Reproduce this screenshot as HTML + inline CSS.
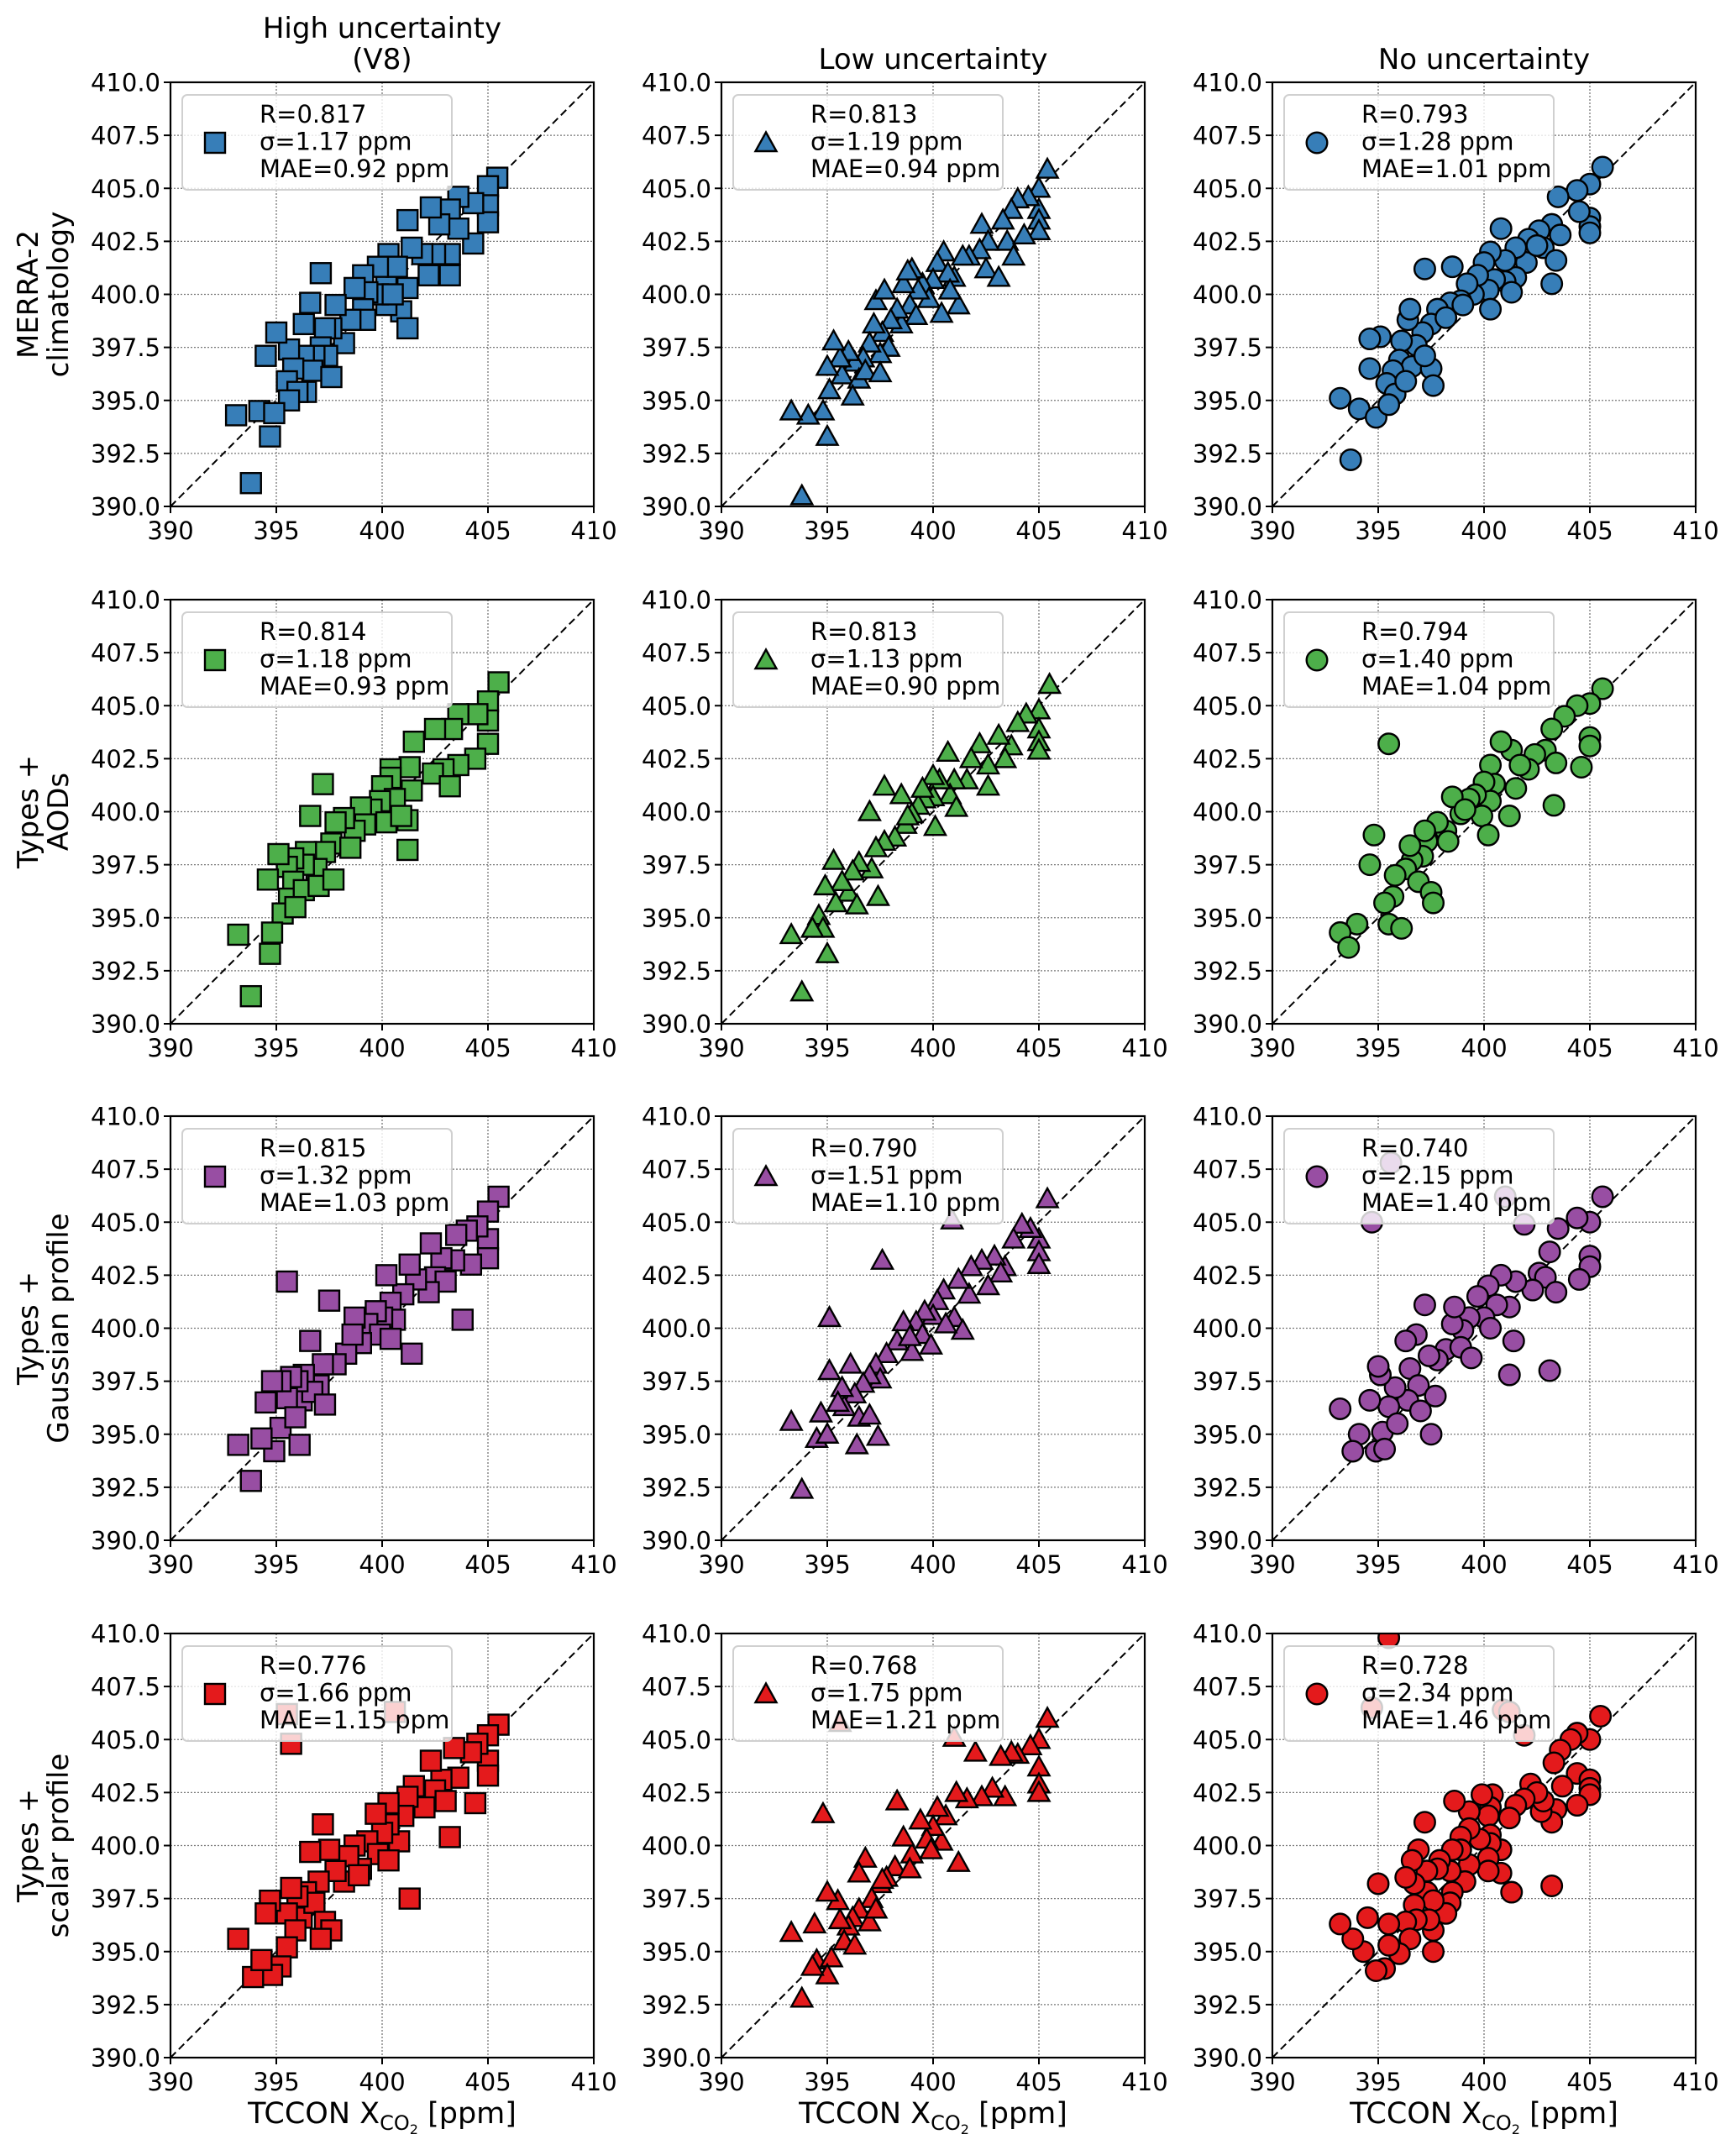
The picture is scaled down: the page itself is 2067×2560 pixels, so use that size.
<!DOCTYPE html>
<html><head><meta charset="utf-8"><style>
html,body{margin:0;padding:0;background:#fff;}
svg{display:block;font-family:"DejaVu Sans","Liberation Sans",sans-serif;}
</style></head><body>
<svg id="fig" width="2067" height="2560" viewBox="0 0 2067 2560" xmlns="http://www.w3.org/2000/svg"></svg>
<script>
const xTicks = [390,395,400,405,410];
const yTicks = [390,392.5,395,397.5,400,402.5,405,407.5,410];
const colTitles = [["High uncertainty","(V8)"],["Low uncertainty"],["No uncertainty"]];
const rowTitles = [["MERRA-2","climatology"],["Types +","AODs"],["Types +","Gaussian profile"],["Types +","scalar profile"]];
const rowColors = ["#377eb8","#4daf4a","#984ea3","#e41a1c"];
const colMarkers = ["square","triangle","circle"];
const statR = [["0.817","0.813","0.793"],["0.814","0.813","0.794"],["0.815","0.790","0.740"],["0.776","0.768","0.728"]];
const statSigma = [["1.17","1.19","1.28"],["1.18","1.13","1.40"],["1.32","1.51","2.15"],["1.66","1.75","2.34"]];
const statMAE = [["0.92","0.94","1.01"],["0.93","0.90","1.04"],["1.03","1.10","1.40"],["1.15","1.21","1.46"]];

const p11 = [[405.44,405.5],[405,405.1],[405,404.2],[405,403.4],[404.3,404.3],[404.3,402.4],[403.6,404.6],[403.2,404],[403.6,403.1],[402.7,403.3],[402.3,404.1],[403.2,401.9],[403.2,400.9],[402.5,401.9],[402.2,400.9],[401.9,401.9],[401.2,403.5],[401.4,402.2],[401.2,400.3],[400.9,399.2],[401.2,398.4],[400.3,401.9],[400.3,401.3],[400.2,400.8],[400.7,401.3],[400.2,399.5],[399.8,400],[400.5,400],[399.8,401.3],[399.1,400.9],[399.3,400.1],[398.7,400.3],[399.1,399.3],[399.2,398.8],[398.5,398.8],[397.8,399.5],[398.2,397.7],[397.6,398.4],[397.1,401],[397.3,398.4],[397.1,397.5],[396.6,399.6],[396.3,398.6],[397.4,397.1],[396.8,397.1],[396.3,397.1],[396.7,396.4],[397.6,396.1],[396.4,395.4],[395.6,397.4],[395.8,396.5],[395.5,395.9],[396,395.4],[395.6,395],[395,398.2],[394.5,397.1],[394.2,394.5],[394.9,394.4],[393.1,394.3],[394.7,393.3],[393.8,391.1]];
const p12 = [[405.4,405.9],[405,405],[405,404],[405,403.5],[405,403],[404.5,404.6],[404,404.5],[403.7,404],[403.3,403.5],[403.5,402.5],[403.8,401.8],[404.3,402.8],[402.3,403.3],[402.6,402.5],[402.2,402.1],[401.7,401.8],[402.5,401.2],[403.1,400.8],[401.4,401.8],[401,400.8],[400.5,402],[400.2,401.5],[400.7,401],[401.2,399.5],[400.8,400.2],[400,400.7],[399.5,400.5],[399.8,399.8],[399.3,400.2],[399,401.2],[398.9,399.5],[400.4,399.1],[399.2,399],[398.5,398.6],[398.3,399.3],[398,398.8],[397.6,398.2],[397.2,398.6],[397.3,399.7],[397.9,397.5],[397.5,397.2],[397,397.7],[396.7,397],[396.3,396.8],[396,397.3],[395.7,396.2],[396.5,396],[396.8,396.4],[396.2,395.2],[397.5,396.3],[395.6,397],[395.3,397.8],[395,396.6],[395.1,395.5],[394.8,394.5],[395,393.3],[394.1,394.3],[393.3,394.5],[393.8,390.5],[398.6,400.5],[398.8,401.1],[397.7,400.2]];
const p13 = [[405.6,406],[405,405.2],[404.4,404.9],[405,403.6],[405,403.2],[405,402.9],[404.5,403.9],[403.5,404.6],[403.2,403.3],[403.6,402.8],[402.6,403],[402.8,402.2],[403.4,401.6],[403.2,400.5],[402.1,402.6],[402,401.5],[401.5,402.2],[401.5,400.8],[401,401.6],[400.8,403.1],[401,400.6],[400.3,402],[400,401.5],[400.5,400.7],[400.2,400.2],[399.7,400.9],[399.5,400],[399.2,400.5],[398.9,399.7],[398.4,399.6],[398.5,401.3],[399,399.5],[400.3,399.3],[397.8,399.3],[397.5,398.6],[397.2,401.2],[397.1,398.2],[396.8,397.6],[396.4,398.8],[396.5,399.3],[396.1,397.8],[396,396.9],[396.6,396.6],[397.5,396.5],[397.6,395.7],[395.7,396.4],[395.4,395.8],[395.8,395.3],[395.1,398],[394.6,397.9],[394.6,396.5],[394.1,394.6],[394.9,394.2],[393.2,395.1],[393.7,392.2],[395.5,394.8],[396.3,395.9],[398.2,398.9],[397.2,397.1],[401.3,400.1],[402.5,402.3]];
const p21 = [[405.5,406.1],[405,405.2],[405,404.3],[405,403.2],[404.5,404.6],[404.4,402.5],[403.6,404.6],[403.3,403.9],[402.5,403.9],[403.6,402.2],[402.9,402],[402.4,401.8],[403.2,401.2],[401.5,403.3],[401.3,402.1],[401.4,401],[401.2,399.6],[400.4,402],[400.4,401.6],[400,401.2],[400.6,400.6],[399.9,400.5],[399.5,400.1],[400.2,399.5],[400.9,399.8],[399,400.2],[399.2,399.4],[398.7,399.1],[398.2,399.7],[397.8,399.5],[397.6,398.5],[397.2,401.3],[397.3,398.1],[396.6,399.8],[396.4,398.1],[396.9,397.3],[396.3,397.5],[395.8,397.8],[395.5,397.4],[395.8,396.7],[395.6,395.9],[396.3,396.3],[397,396.5],[395.3,395.2],[395.9,395.5],[395.1,398],[394.6,396.8],[394.8,394.3],[394.7,393.3],[393.2,394.2],[393.8,391.3],[401.2,398.2],[398.5,398.3],[397.7,396.8]];
const p22 = [[405.5,406],[405,404.8],[405,403.9],[405,403.3],[405,402.9],[404.4,404.6],[404,404.2],[403.7,403.1],[403.1,403.6],[403.4,402.5],[402.2,403.2],[402.6,402.2],[401.8,402.5],[401.6,401.5],[402.6,401.2],[401,401.5],[400.8,400.8],[401.1,400.2],[400.7,402.8],[400.3,401.5],[400,401.7],[400,400.7],[399.6,400.6],[399.3,400.3],[399.5,401.1],[399,399.9],[398.7,399.4],[398.5,400.8],[397.7,401.2],[398.2,398.8],[397.7,398.6],[397.3,398.3],[397,400],[397.1,397.3],[396.5,397.6],[396.2,397.2],[396,396.2],[396.4,395.6],[397.4,396],[395.7,396.7],[395.4,395.7],[395.3,397.7],[394.9,396.5],[394.6,395.1],[394.8,394.5],[395,393.3],[393.3,394.2],[394.3,394.5],[393.8,391.5],[398.8,399.8],[400.1,399.3]];
const p23 = [[405.6,405.8],[405,405.1],[404.4,405],[405,403.5],[405,403.1],[404.6,402.1],[403.8,404.5],[403.2,403.9],[403.3,400.3],[402.9,402.9],[403.4,402.3],[402.4,402.7],[402.1,402],[401.3,402.9],[401.7,402.2],[400.8,403.3],[401.5,401.1],[401.2,399.8],[400.3,402.2],[400.5,401.3],[400,401.4],[400.3,400.5],[399.9,399.8],[400.2,398.9],[399.6,400.8],[399.3,400.6],[398.9,399.9],[398.5,400.7],[398.2,399.1],[397.8,399.5],[397.3,398.6],[397.2,399.1],[397.1,397.9],[396.6,397.7],[396.3,397.3],[396.5,398.4],[396.9,396.7],[397.5,396.2],[397.6,395.7],[395.8,397],[395.7,396],[395.3,395.7],[395.5,394.7],[395.5,403.2],[394.8,398.9],[394.6,397.5],[394,394.7],[393.2,394.3],[393.6,393.6],[396.1,394.5],[398.3,398.6],[399.1,400.1]];
const p31 = [[405.5,406.2],[405,405.5],[405,404.2],[405,403.3],[404.5,404.8],[404,404.6],[404.2,403],[403.5,404.4],[403.4,403.2],[402.8,403.3],[402.3,404],[402.5,402.4],[403,402.2],[403.8,400.4],[402.2,401.7],[401.6,402.3],[401.3,403],[401,401.6],[400.2,402.5],[400.4,401.2],[400.6,400.4],[400,400.5],[399.7,400.8],[399.3,400.2],[399.9,399.7],[400.4,399.5],[399,399.3],[398.7,400.5],[398.3,398.8],[397.8,398.3],[397.5,401.3],[397.2,398.3],[397,397.3],[396.6,399.4],[396.3,397.8],[396.2,396.6],[396.7,397],[397.3,396.4],[396,397.5],[395.7,397.7],[395.5,396.7],[395.5,402.2],[395.2,395.3],[395.9,395.8],[396.1,394.5],[395.2,397.5],[394.8,397.5],[394.5,396.5],[394.9,394.2],[394.3,394.8],[393.2,394.5],[393.8,392.8],[401.4,398.8],[398.6,399.7]];
const p32 = [[405.4,406.1],[405,404.2],[405,403.6],[405,403],[404.6,404.7],[404.2,404.9],[403.8,404.2],[403.4,402.9],[402.9,403.4],[403.2,402.6],[402.3,403.2],[401.8,402.9],[402.6,402],[401.7,401.6],[401.2,402.3],[400.9,405.1],[401,400.5],[401.4,399.9],[400.5,401.8],[400.2,401.3],[400,400.6],[400.6,400.2],[399.6,400.8],[399.2,400.3],[399.5,399.7],[399,398.9],[398.6,400.3],[398.3,399.4],[397.8,398.8],[397.6,403.2],[397.3,398.3],[397.5,397.6],[397,397.8],[396.7,397.4],[396.3,396.9],[396.1,398.3],[395.8,396.3],[396.5,395.8],[397,395.9],[397.4,394.9],[395.7,397.2],[395.5,396.5],[395.1,400.5],[395.1,398],[394.7,396],[394.5,394.8],[395,395],[393.3,395.6],[393.8,392.4],[398.9,399.6],[399.9,399.2],[396.4,394.5]];
const p33 = [[405.6,406.2],[405,405],[404.4,405.2],[405,403.4],[405,402.9],[404.5,402.3],[403.5,404.7],[403.1,403.6],[403.1,398],[402.6,402.6],[402.9,402.4],[403.4,401.7],[402.3,401.8],[401.9,404.9],[401.5,402.2],[401.2,401],[401,406.2],[400.8,402.5],[400.2,402],[400.6,401.1],[400,400.5],[400.3,400],[401.2,397.8],[401.4,399.4],[399.7,401.5],[399.3,400.5],[399,399.9],[398.5,400.2],[398.6,401],[398.2,399],[397.8,398.5],[397.4,398.7],[397.2,401.1],[396.8,399.7],[396.3,399.4],[396.5,398.1],[396.9,397.3],[396.4,396.6],[397,396.1],[397.5,395],[397.7,396.8],[395.8,397.2],[395.5,396.3],[395.1,397.8],[395.2,395.1],[395.9,395.5],[395,398.2],[394.6,396.6],[394.1,395],[393.8,394.2],[393.2,396.2],[394.9,394.2],[395.3,394.3],[394.7,405],[395.6,407.8],[398.9,399.1],[399.4,398.6]];
const p41 = [[405.5,405.7],[405,405.2],[405,404],[405,403.3],[404.5,404.8],[404.2,404.4],[404.4,402],[403.4,404.6],[403.6,403.2],[402.8,403.1],[402.3,404],[402.5,402.6],[403,402.1],[403.2,400.4],[402,401.8],[401.5,402.8],[401.2,402.3],[401,401.4],[400.8,400.2],[400.3,402],[400.6,406.3],[400.3,401],[400,400.6],[399.7,401.5],[399.3,400.2],[399.8,399.6],[400.3,399.3],[399,398.9],[398.7,400],[398.4,399.5],[398.2,398.3],[397.8,398.8],[397.5,399.8],[397.2,401],[397,398.3],[396.6,399.7],[396.4,397.8],[396.2,396.6],[396.8,397.3],[397.3,396.4],[397.6,396],[396,397.6],[395.7,398],[395.5,396.8],[395.9,396],[395.5,395.2],[395.2,394.3],[395.7,404.8],[395.5,406.2],[394.7,397.4],[394.5,396.8],[394.8,393.9],[393.9,393.8],[393.2,395.6],[394.3,394.6],[401.3,397.5],[398.9,398.6],[397.1,395.6]];
const p42 = [[405.4,406],[405,405],[405,403.7],[405,402.9],[405,402.5],[404.6,404.7],[404,404.3],[403.7,404.4],[403.2,404.2],[403.4,402.3],[402.8,402.7],[402.3,402.3],[402,404.4],[401.6,402.2],[401.1,402.5],[401,405.1],[401.2,399.2],[400.6,401.4],[400.2,401.8],[400.4,400.2],[400,400.9],[399.7,400.3],[399.4,401.2],[399,399.6],[398.6,400.4],[398.3,402.1],[398.2,399],[397.8,398.5],[397.5,398.2],[397.1,397.5],[396.8,399.4],[396.5,397],[396.2,396.6],[396.5,398.7],[396,396.2],[395.8,395.5],[396.3,395.3],[397,396.4],[397.3,397],[397.6,398.4],[395.6,396.5],[395.5,397.4],[395,397.8],[395.6,405.8],[394.8,401.5],[394.5,394.6],[395.2,394.7],[395,393.9],[394.3,394.3],[393.3,395.9],[393.8,392.8],[398.9,398.9],[399.9,399.8],[394.4,396.3]];
const p43 = [[405.5,406.1],[405,405],[404.4,405.3],[404.1,405],[403.6,404.5],[403.3,403.9],[404.4,403.4],[405,403.1],[405,402.7],[405,402.4],[403.7,402.8],[404.4,401.9],[403.4,401.7],[403.2,401.1],[403.2,398.1],[402.7,401.6],[402.8,402.1],[402.2,402.9],[402.5,402.5],[401.9,402.2],[401.5,401.9],[401.2,401.3],[400.9,406.4],[401.9,405.2],[401.3,397.8],[400.8,398.7],[400.8,399.8],[400.4,402.4],[400.3,401.8],[400.2,401.4],[400.3,400.5],[400.3,400.1],[399.9,402.4],[400.2,399.4],[400.2,398.8],[399.8,400.3],[399.3,401.6],[399.3,400.8],[398.9,400.4],[399.3,399.1],[399.1,398.3],[398.9,399.8],[398.5,399.8],[398.6,402.1],[398.4,398.8],[398.5,397.8],[398.4,397.3],[398.2,396.8],[397.9,399.3],[397.8,398.9],[397.3,398.8],[397.2,401.1],[397.3,397.8],[397.6,397.4],[397.6,396],[397.6,395],[397.4,396.5],[396.9,399.8],[396.6,399.3],[396.7,398.2],[396.3,398.5],[396.7,397.2],[396.8,396.5],[396.3,396.4],[396.5,395.6],[396,394.9],[395.5,396.3],[395.5,395.3],[395.3,394.2],[394.9,394.1],[395,398.2],[394.5,396.6],[394.3,395],[393.8,395.6],[393.2,396.3],[395.5,409.8],[394.7,406.5],[401.2,406.3]];
const panelData = [[p11,p12,p13],[p21,p22,p23],[p31,p32,p33],[p41,p42,p43]];

const NS = "http://www.w3.org/2000/svg";
const svg = document.getElementById("fig");
const colLeft = [203,859,1515];
const rowTop = [98,714,1329,1945];
const W = 504, H = 505;
const X0 = 390, X1 = 410;
function mk(tag, attrs, parent){ const e = document.createElementNS(NS, tag); for (const k in attrs) e.setAttribute(k, attrs[k]); (parent||svg).appendChild(e); return e; }

function drawMarker(g, type, cx, cy, color){
  let m;
  if (type === "square") m = mk("rect",{x:cx-12,y:cy-12,width:24,height:24,fill:color,stroke:"#000","stroke-width":2.4},g);
  else if (type === "circle") m = mk("circle",{cx:cx,cy:cy,r:12.3,fill:color,stroke:"#000","stroke-width":2.4},g);
  else m = mk("polygon",{points:(cx)+","+(cy-12.5)+" "+(cx+12.5)+","+(cy+10)+" "+(cx-12.5)+","+(cy+10),fill:color,stroke:"#000","stroke-width":2.4,"stroke-linejoin":"miter"},g);
  return m;
}

for (let r=0;r<4;r++){
  for (let c=0;c<3;c++){
    const L = colLeft[c], T = rowTop[r];
    const sx = v => L + (v - X0)/(X1-X0)*W;
    const sy = v => T + H - (v - X0)/(X1-X0)*H;
    const g = mk("g",{});
    
    
    const clipId = "clip"+r+c;
    const cp = mk("clipPath",{id:clipId},g);
    mk("rect",{x:L,y:T,width:W,height:H},cp);
    const grid = mk("g",{stroke:"#777","stroke-width":1.3,"stroke-dasharray":"2,2"},g);
    
    
    xTicks.forEach(t=>{ mk("line",{x1:sx(t),x2:sx(t),y1:T,y2:T+H},grid); });
    yTicks.forEach(t=>{ mk("line",{x1:L,x2:L+W,y1:sy(t),y2:sy(t)},grid); });
    const d = mk("line",{x1:sx(X0),y1:sy(X0),x2:sx(X1),y2:sy(X1),stroke:"#000","stroke-width":2,"stroke-dasharray":"9,5"},g);
    
    
    const pg = mk("g",{"clip-path":"url(#"+clipId+")"},g);
    
    
    panelData[r][c].forEach(p=>{
      const m = drawMarker(pg, colMarkers[c], sx(p[0]), sy(p[1]), rowColors[r]);
      
      
    });
    const lg = mk("g",{},g);
    
    
    mk("rect",{x:L+14,y:T+15,width:321,height:113,rx:6,fill:"#fff","fill-opacity":0.8,stroke:"#d0d0d0","stroke-width":2},lg);
    const lm = drawMarker(lg, colMarkers[c], L+53, T+72, rowColors[r]);
    
    
    const lines = ["R="+statR[r][c], "\u03c3="+statSigma[r][c]+" ppm", "MAE="+statMAE[r][c]+" ppm"];
    lines.forEach((s,i)=>{
      const t = mk("text",{x:L+106,y:T+48+i*32.5,"font-size":29,fill:"#000"},lg);
      t.textContent = s;
      
      
    });
    const fr = mk("rect",{x:L,y:T,width:W,height:H,fill:"none",stroke:"#000","stroke-width":2.2},g);
    
    
    xTicks.forEach(t=>{
      mk("line",{x1:sx(t),x2:sx(t),y1:T+H,y2:T+H+8,stroke:"#000","stroke-width":2},g);
      const tx = mk("text",{x:sx(t),y:T+H+39,"font-size":29,"text-anchor":"middle",fill:"#000"},g);
      tx.textContent = String(t);
      
      
    });
    yTicks.forEach(t=>{
      mk("line",{x1:L-8,x2:L,y1:sy(t),y2:sy(t),stroke:"#000","stroke-width":2},g);
      const ty = mk("text",{x:L-12,y:sy(t)+10.5,"font-size":29,"text-anchor":"end",fill:"#000"},g);
      ty.textContent = t.toFixed(1);
      
      
    });
    if (r===3){
      const xt = mk("text",{x:L+W/2,y:T+H+78,"font-size":35,"text-anchor":"middle",fill:"#000"},g);
      
      
      const a = mk("tspan",{},xt); a.textContent = "TCCON X";
      const b = mk("tspan",{"font-size":24,dy:8},xt); b.textContent = "CO";
      const b2 = mk("tspan",{"font-size":16,dy:5},xt); b2.textContent = "2";
      const cc = mk("tspan",{dy:-13},xt); cc.textContent = " [ppm]";
    }
  }
}
colTitles.forEach((lines,c)=>{
  const cx = colLeft[c]+W/2;
  lines.forEach((s,i)=>{
    const y = lines.length===2 ? 45+i*37 : 82;
    const t = mk("text",{x:cx,y:y,"font-size":34,"text-anchor":"middle",fill:"#000"});
    t.textContent = s;
    
    
  });
});
rowTitles.forEach((lines,r)=>{
  const cy = rowTop[r]+H/2;
  lines.forEach((s,i)=>{
    const x = 45+i*36;
    const t = mk("text",{x:x,y:cy,"font-size":34,"text-anchor":"middle",fill:"#000",transform:"rotate(-90 "+x+" "+cy+")"});
    t.textContent = s;
    
    
  });
});
</script>
</body></html>
